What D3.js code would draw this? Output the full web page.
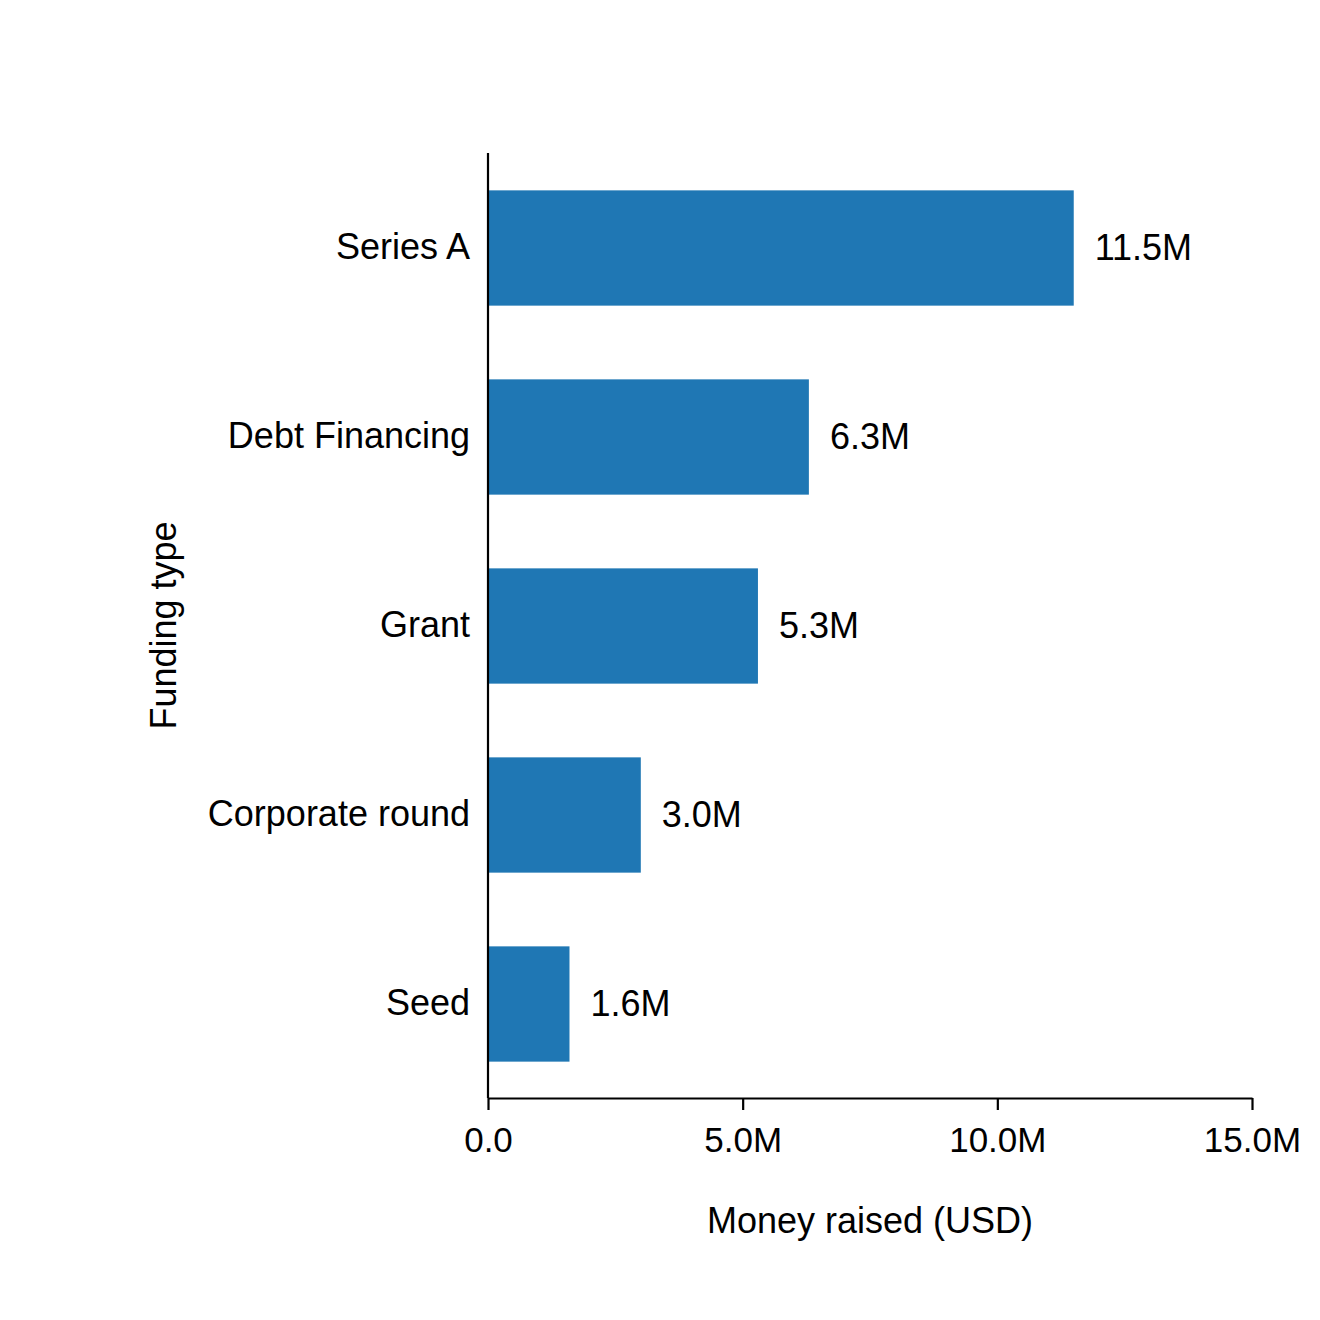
<!DOCTYPE html>
<html>
<head>
<meta charset="utf-8">
<script src="https://cdn.jsdelivr.net/npm/d3@7"></script>
<style>
  html, body { margin: 0; padding: 0; background: #fff; }
  text { font-family: "Liberation Sans", Arial, sans-serif; fill: #000; }
</style>
</head>
<body>
<svg id="chart" width="1320" height="1320"></svg>
<script>
const categories = ["Series A", "Debt Financing", "Grant", "Corporate round", "Seed"];
const values = [11.5, 6.3, 5.3, 3.0, 1.6]; // millions USD
const xTicks = [0, 5, 10, 15];
const xTickLabels = ["0.0", "5.0M", "10.0M", "15.0M"];
const valueLabels = ["11.5M", "6.3M", "5.3M", "3.0M", "1.6M"];

(function () {
const svg = d3.select("#chart");
const pLeft = 488, pRight = 1252, pTop = 153, pBottom = 1098;

const x = d3.scaleLinear().domain([0, 15]).range([pLeft, pRight]);
const y = d3.scaleBand().domain(categories).range([pTop, pBottom])
  .paddingInner(0.39).paddingOuter(0.195);

svg.append("rect").attr("width", 1320).attr("height", 1320).attr("fill", "#fff");

svg.selectAll("rect.bar").data(categories).enter().append("rect")
  .attr("class", "bar")
  .attr("x", x(0))
  .attr("y", d => y(d) + 0.5)
  .attr("width", (d, i) => x(values[i]) - x(0))
  .attr("height", y.bandwidth())
  .attr("fill", "#1f77b4");

svg.selectAll("text.val").data(categories).enter().append("text")
  .attr("class", "val")
  .attr("x", (d, i) => x(values[i]) + 21)
  .attr("y", d => y(d) + y.bandwidth() / 2)
  .attr("dy", "0.36em")
  .attr("font-size", 36)
  .text((d, i) => valueLabels[i]);

const xAxis = d3.axisBottom(x).tickValues(xTicks)
  .tickFormat((d, i) => xTickLabels[i]).tickSize(12).tickSizeOuter(0).tickPadding(17);
const gx = svg.append("g").attr("transform", `translate(0,${pBottom})`).call(xAxis);
gx.selectAll("path, line").attr("stroke", "#000").attr("stroke-width", 2.2);
gx.selectAll("text").attr("font-size", 35).attr("font-family", "Liberation Sans, Arial, sans-serif").attr("fill", "#000");

const yAxis = d3.axisLeft(y).tickSize(0).tickSizeOuter(0).tickPadding(18);
const gy = svg.append("g").attr("transform", `translate(${pLeft},0)`).call(yAxis);
gy.select("path.domain").attr("stroke", "#000").attr("stroke-width", 2.2)
  .attr("d", `M0,${pTop}V${pBottom}`);
gy.selectAll("text").attr("font-size", 36).attr("font-family", "Liberation Sans, Arial, sans-serif").attr("fill", "#000");

svg.append("text")
  .attr("x", (pLeft + pRight) / 2).attr("y", 1233)
  .attr("text-anchor", "middle").attr("font-size", 36)
  .text("Money raised (USD)");

svg.append("text")
  .attr("transform", `translate(176,${(pTop + pBottom) / 2}) rotate(-90)`)
  .attr("text-anchor", "middle").attr("font-size", 36)
  .text("Funding type");
})();
</script>
</body>
</html>
